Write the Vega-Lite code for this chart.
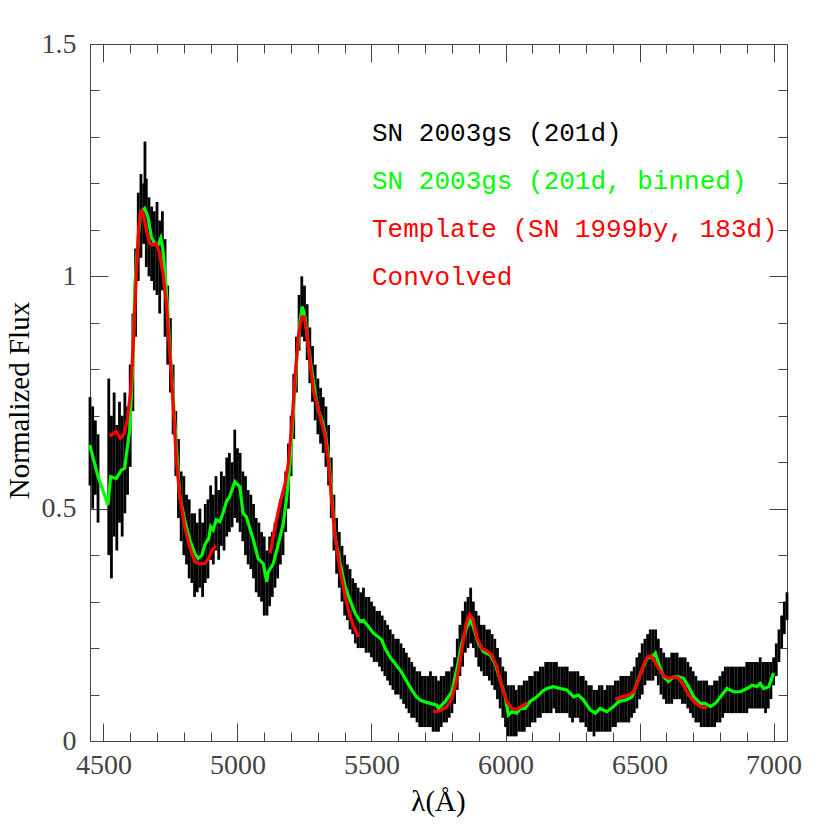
{
"$schema": "https://vega.github.io/schema/vega-lite/v6.json",
"width": 697, "height": 697,
"autosize": "none",
"padding": {"left": 90, "top": 44, "right": 43, "bottom": 89},
"background": "white",
"config": {"view": {"stroke": null}},
"datasets": {
"black": [
{"w":4450,"lo":0.55,"hi":0.74},{"w":4460,"lo":0.50,"hi":0.72},{"w":4470,"lo":0.53,"hi":0.69},{"w":4480,"lo":0.47,"hi":0.66},
{"w":4520,"lo":0.40,"hi":0.78},{"w":4530,"lo":0.35,"hi":0.70},{"w":4540,"lo":0.44,"hi":0.75},{"w":4550,"lo":0.41,"hi":0.68},{"w":4560,"lo":0.47,"hi":0.73},{"w":4570,"lo":0.44,"hi":0.70},{"w":4580,"lo":0.49,"hi":0.75},{"w":4590,"lo":0.53,"hi":0.72},
{"w":4600,"lo":0.59,"hi":0.81},{"w":4610,"lo":0.71,"hi":0.92},{"w":4620,"lo":0.87,"hi":1.06},{"w":4630,"lo":0.99,"hi":1.18},{"w":4640,"lo":1.04,"hi":1.22},{"w":4650,"lo":1.07,"hi":1.20},{"w":4655,"lo":1.10,"hi":1.29},{"w":4660,"lo":1.02,"hi":1.21},{"w":4670,"lo":1.00,"hi":1.17},{"w":4680,"lo":0.99,"hi":1.15},{"w":4690,"lo":0.97,"hi":1.14},
{"w":4700,"lo":0.96,"hi":1.16},{"w":4710,"lo":0.92,"hi":1.12},{"w":4720,"lo":0.97,"hi":1.14},{"w":4730,"lo":0.87,"hi":1.08},{"w":4740,"lo":0.81,"hi":0.98},{"w":4750,"lo":0.75,"hi":0.91},{"w":4760,"lo":0.66,"hi":0.81},{"w":4770,"lo":0.57,"hi":0.71},{"w":4780,"lo":0.48,"hi":0.65},{"w":4790,"lo":0.43,"hi":0.58},
{"w":4800,"lo":0.40,"hi":0.57},{"w":4810,"lo":0.38,"hi":0.53},{"w":4820,"lo":0.35,"hi":0.52},{"w":4830,"lo":0.34,"hi":0.49},{"w":4840,"lo":0.31,"hi":0.49},{"w":4850,"lo":0.32,"hi":0.47},{"w":4860,"lo":0.33,"hi":0.50},{"w":4870,"lo":0.31,"hi":0.47},{"w":4880,"lo":0.34,"hi":0.51},{"w":4890,"lo":0.35,"hi":0.52},
{"w":4900,"lo":0.39,"hi":0.55},{"w":4910,"lo":0.38,"hi":0.53},{"w":4920,"lo":0.41,"hi":0.57},{"w":4930,"lo":0.39,"hi":0.54},{"w":4940,"lo":0.42,"hi":0.58},{"w":4950,"lo":0.41,"hi":0.57},{"w":4960,"lo":0.44,"hi":0.61},{"w":4970,"lo":0.45,"hi":0.62},{"w":4980,"lo":0.46,"hi":0.60},{"w":4990,"lo":0.48,"hi":0.67},
{"w":5000,"lo":0.47,"hi":0.63},{"w":5010,"lo":0.45,"hi":0.62},{"w":5020,"lo":0.43,"hi":0.58},{"w":5030,"lo":0.40,"hi":0.57},{"w":5040,"lo":0.38,"hi":0.54},{"w":5050,"lo":0.37,"hi":0.53},{"w":5060,"lo":0.35,"hi":0.51},{"w":5070,"lo":0.32,"hi":0.48},{"w":5080,"lo":0.31,"hi":0.47},{"w":5090,"lo":0.30,"hi":0.45},
{"w":5100,"lo":0.27,"hi":0.44},{"w":5110,"lo":0.27,"hi":0.41},{"w":5120,"lo":0.29,"hi":0.44},{"w":5130,"lo":0.31,"hi":0.45},{"w":5140,"lo":0.33,"hi":0.47},{"w":5150,"lo":0.35,"hi":0.49},{"w":5160,"lo":0.38,"hi":0.52},{"w":5170,"lo":0.40,"hi":0.53},{"w":5180,"lo":0.45,"hi":0.58},{"w":5190,"lo":0.50,"hi":0.64},
{"w":5200,"lo":0.57,"hi":0.70},{"w":5210,"lo":0.65,"hi":0.79},{"w":5220,"lo":0.75,"hi":0.87},{"w":5230,"lo":0.84,"hi":0.96},{"w":5240,"lo":0.87,"hi":1.00},{"w":5250,"lo":0.86,"hi":0.98},{"w":5260,"lo":0.82,"hi":0.94},{"w":5270,"lo":0.77,"hi":0.89},{"w":5280,"lo":0.73,"hi":0.85},{"w":5290,"lo":0.69,"hi":0.81},
{"w":5300,"lo":0.66,"hi":0.78},{"w":5310,"lo":0.64,"hi":0.76},{"w":5320,"lo":0.62,"hi":0.74},{"w":5330,"lo":0.59,"hi":0.72},{"w":5340,"lo":0.55,"hi":0.68},{"w":5350,"lo":0.48,"hi":0.61},{"w":5360,"lo":0.41,"hi":0.53},{"w":5370,"lo":0.36,"hi":0.48},{"w":5380,"lo":0.33,"hi":0.45},{"w":5390,"lo":0.30,"hi":0.42},
{"w":5400,"lo":0.27,"hi":0.40},{"w":5410,"lo":0.26,"hi":0.38},{"w":5420,"lo":0.24,"hi":0.37},{"w":5430,"lo":0.23,"hi":0.35},{"w":5440,"lo":0.21,"hi":0.34},{"w":5450,"lo":0.20,"hi":0.33},{"w":5460,"lo":0.20,"hi":0.32},{"w":5470,"lo":0.20,"hi":0.33},{"w":5480,"lo":0.19,"hi":0.31},{"w":5490,"lo":0.19,"hi":0.31},
{"w":5500,"lo":0.18,"hi":0.30},{"w":5510,"lo":0.17,"hi":0.29},{"w":5520,"lo":0.17,"hi":0.28},{"w":5530,"lo":0.16,"hi":0.28},{"w":5540,"lo":0.15,"hi":0.27},{"w":5550,"lo":0.14,"hi":0.26},{"w":5560,"lo":0.13,"hi":0.25},{"w":5570,"lo":0.12,"hi":0.24},{"w":5580,"lo":0.11,"hi":0.23},{"w":5590,"lo":0.10,"hi":0.22},
{"w":5600,"lo":0.10,"hi":0.22},{"w":5610,"lo":0.09,"hi":0.21},{"w":5620,"lo":0.08,"hi":0.20},{"w":5630,"lo":0.07,"hi":0.19},{"w":5640,"lo":0.06,"hi":0.18},{"w":5650,"lo":0.05,"hi":0.17},{"w":5660,"lo":0.05,"hi":0.16},{"w":5670,"lo":0.04,"hi":0.15},{"w":5680,"lo":0.03,"hi":0.15},{"w":5690,"lo":0.03,"hi":0.14},
{"w":5700,"lo":0.03,"hi":0.14},{"w":5710,"lo":0.03,"hi":0.14},{"w":5720,"lo":0.03,"hi":0.15},{"w":5730,"lo":0.02,"hi":0.14},{"w":5740,"lo":0.02,"hi":0.14},{"w":5750,"lo":0.02,"hi":0.13},{"w":5760,"lo":0.03,"hi":0.14},{"w":5770,"lo":0.04,"hi":0.14},{"w":5780,"lo":0.04,"hi":0.15},{"w":5790,"lo":0.05,"hi":0.15},
{"w":5800,"lo":0.06,"hi":0.16},{"w":5810,"lo":0.08,"hi":0.18},{"w":5820,"lo":0.11,"hi":0.22},{"w":5830,"lo":0.14,"hi":0.25},{"w":5840,"lo":0.16,"hi":0.28},{"w":5850,"lo":0.19,"hi":0.30},{"w":5860,"lo":0.20,"hi":0.31},{"w":5870,"lo":0.21,"hi":0.33},{"w":5880,"lo":0.20,"hi":0.30},{"w":5890,"lo":0.18,"hi":0.28},
{"w":5900,"lo":0.16,"hi":0.27},{"w":5910,"lo":0.15,"hi":0.25},{"w":5920,"lo":0.14,"hi":0.25},{"w":5930,"lo":0.14,"hi":0.24},{"w":5940,"lo":0.13,"hi":0.24},{"w":5950,"lo":0.12,"hi":0.23},{"w":5960,"lo":0.11,"hi":0.22},{"w":5970,"lo":0.09,"hi":0.20},{"w":5980,"lo":0.07,"hi":0.18},{"w":5990,"lo":0.05,"hi":0.16},
{"w":6000,"lo":0.03,"hi":0.15},{"w":6010,"lo":0.01,"hi":0.12},{"w":6020,"lo":0.01,"hi":0.12},{"w":6030,"lo":0.01,"hi":0.12},{"w":6040,"lo":0.01,"hi":0.11},{"w":6050,"lo":0.02,"hi":0.12},{"w":6060,"lo":0.02,"hi":0.12},{"w":6070,"lo":0.02,"hi":0.13},{"w":6080,"lo":0.03,"hi":0.13},{"w":6090,"lo":0.03,"hi":0.14},
{"w":6100,"lo":0.04,"hi":0.14},{"w":6110,"lo":0.04,"hi":0.15},{"w":6120,"lo":0.05,"hi":0.15},{"w":6130,"lo":0.05,"hi":0.16},{"w":6140,"lo":0.06,"hi":0.16},{"w":6150,"lo":0.06,"hi":0.17},{"w":6160,"lo":0.06,"hi":0.17},{"w":6170,"lo":0.06,"hi":0.17},{"w":6180,"lo":0.07,"hi":0.17},{"w":6190,"lo":0.06,"hi":0.17},
{"w":6200,"lo":0.06,"hi":0.16},{"w":6210,"lo":0.06,"hi":0.16},{"w":6220,"lo":0.06,"hi":0.16},{"w":6230,"lo":0.06,"hi":0.16},{"w":6240,"lo":0.05,"hi":0.15},{"w":6250,"lo":0.04,"hi":0.15},{"w":6260,"lo":0.05,"hi":0.15},{"w":6270,"lo":0.05,"hi":0.15},{"w":6280,"lo":0.04,"hi":0.14},{"w":6290,"lo":0.04,"hi":0.14},
{"w":6300,"lo":0.03,"hi":0.13},{"w":6310,"lo":0.02,"hi":0.12},{"w":6320,"lo":0.02,"hi":0.12},{"w":6330,"lo":0.01,"hi":0.11},{"w":6340,"lo":0.02,"hi":0.11},{"w":6350,"lo":0.02,"hi":0.12},{"w":6360,"lo":0.02,"hi":0.12},{"w":6370,"lo":0.02,"hi":0.11},{"w":6380,"lo":0.02,"hi":0.12},{"w":6390,"lo":0.02,"hi":0.12},
{"w":6400,"lo":0.03,"hi":0.12},{"w":6410,"lo":0.03,"hi":0.13},{"w":6420,"lo":0.04,"hi":0.13},{"w":6430,"lo":0.04,"hi":0.14},{"w":6440,"lo":0.04,"hi":0.14},{"w":6450,"lo":0.04,"hi":0.14},{"w":6460,"lo":0.04,"hi":0.14},{"w":6470,"lo":0.05,"hi":0.15},{"w":6480,"lo":0.06,"hi":0.16},{"w":6490,"lo":0.07,"hi":0.18},
{"w":6500,"lo":0.09,"hi":0.19},{"w":6510,"lo":0.10,"hi":0.21},{"w":6520,"lo":0.12,"hi":0.22},{"w":6530,"lo":0.13,"hi":0.23},{"w":6540,"lo":0.13,"hi":0.24},{"w":6550,"lo":0.13,"hi":0.24},{"w":6560,"lo":0.14,"hi":0.24},{"w":6570,"lo":0.12,"hi":0.22},{"w":6580,"lo":0.10,"hi":0.20},{"w":6590,"lo":0.09,"hi":0.19},
{"w":6600,"lo":0.08,"hi":0.18},{"w":6610,"lo":0.08,"hi":0.18},{"w":6620,"lo":0.08,"hi":0.19},{"w":6630,"lo":0.09,"hi":0.19},{"w":6640,"lo":0.09,"hi":0.19},{"w":6650,"lo":0.09,"hi":0.18},{"w":6660,"lo":0.08,"hi":0.18},{"w":6670,"lo":0.08,"hi":0.18},{"w":6680,"lo":0.07,"hi":0.17},{"w":6690,"lo":0.06,"hi":0.16},
{"w":6700,"lo":0.05,"hi":0.15},{"w":6710,"lo":0.04,"hi":0.14},{"w":6720,"lo":0.04,"hi":0.13},{"w":6730,"lo":0.03,"hi":0.13},{"w":6740,"lo":0.03,"hi":0.13},{"w":6750,"lo":0.03,"hi":0.13},{"w":6760,"lo":0.03,"hi":0.12},{"w":6770,"lo":0.03,"hi":0.12},{"w":6780,"lo":0.03,"hi":0.13},{"w":6790,"lo":0.04,"hi":0.13},
{"w":6800,"lo":0.04,"hi":0.14},{"w":6810,"lo":0.05,"hi":0.15},{"w":6820,"lo":0.06,"hi":0.16},{"w":6830,"lo":0.06,"hi":0.16},{"w":6840,"lo":0.06,"hi":0.16},{"w":6850,"lo":0.06,"hi":0.16},{"w":6860,"lo":0.06,"hi":0.16},{"w":6870,"lo":0.06,"hi":0.16},{"w":6880,"lo":0.06,"hi":0.16},{"w":6890,"lo":0.06,"hi":0.16},
{"w":6900,"lo":0.06,"hi":0.17},{"w":6910,"lo":0.07,"hi":0.17},{"w":6920,"lo":0.07,"hi":0.17},{"w":6930,"lo":0.07,"hi":0.17},{"w":6940,"lo":0.07,"hi":0.17},{"w":6950,"lo":0.07,"hi":0.18},{"w":6960,"lo":0.07,"hi":0.17},{"w":6970,"lo":0.06,"hi":0.17},{"w":6980,"lo":0.07,"hi":0.17},{"w":6990,"lo":0.09,"hi":0.17},
{"w":7000,"lo":0.12,"hi":0.18},{"w":7010,"lo":0.14,"hi":0.21},{"w":7020,"lo":0.17,"hi":0.24},{"w":7030,"lo":0.20,"hi":0.27},{"w":7040,"lo":0.23,"hi":0.30},{"w":7050,"lo":0.26,"hi":0.32}
],
"green": [
{"w":4449,"f":0.637},{"w":4480,"f":0.569},{"w":4517,"f":0.508},{"w":4527,"f":0.569},{"w":4548,"f":0.565},{"w":4567,"f":0.583},{"w":4579,"f":0.587},{"w":4598,"f":0.669},{"w":4610,"f":0.813},{"w":4617,"f":0.978},{"w":4629,"f":1.078},{"w":4639,"f":1.139},{"w":4654,"f":1.146},{"w":4666,"f":1.128},{"w":4679,"f":1.085},{"w":4691,"f":1.071},{"w":4704,"f":1.067},{"w":4714,"f":1.082},{"w":4722,"f":1.057},{"w":4735,"f":0.970},{"w":4747,"f":0.856},{"w":4760,"f":0.741},{"w":4772,"f":0.633},{"w":4785,"f":0.526},{"w":4803,"f":0.476},{"w":4822,"f":0.433},{"w":4841,"f":0.404},{"w":4853,"f":0.393},{"w":4868,"f":0.400},{"w":4878,"f":0.422},{"w":4893,"f":0.436},{"w":4900,"f":0.461},{"w":4909,"f":0.454},{"w":4921,"f":0.476},{"w":4934,"f":0.472},{"w":4946,"f":0.490},{"w":4959,"f":0.515},{"w":4971,"f":0.526},{"w":4990,"f":0.558},{"w":5009,"f":0.547},{"w":5021,"f":0.490},{"w":5033,"f":0.483},{"w":5046,"f":0.458},{"w":5058,"f":0.436},{"w":5077,"f":0.393},{"w":5096,"f":0.382},{"w":5109,"f":0.343},{"w":5115,"f":0.364},{"w":5134,"f":0.382},{"w":5153,"f":0.425},{"w":5171,"f":0.468},{"w":5184,"f":0.526},{"w":5196,"f":0.598},{"w":5209,"f":0.712},{"w":5221,"f":0.820},{"w":5234,"f":0.906},{"w":5242,"f":0.935},{"w":5252,"f":0.913},{"w":5265,"f":0.848},{"w":5277,"f":0.798},{"w":5290,"f":0.748},{"w":5302,"f":0.712},{"w":5315,"f":0.691},{"w":5327,"f":0.662},{"w":5340,"f":0.612},{"w":5352,"f":0.526},{"w":5364,"f":0.440},{"w":5383,"f":0.382},{"w":5402,"f":0.332},{"w":5420,"f":0.303},{"w":5439,"f":0.275},{"w":5458,"f":0.257},{"w":5470,"f":0.260},{"w":5489,"f":0.246},{"w":5507,"f":0.232},{"w":5526,"f":0.224},{"w":5539,"f":0.217},{"w":5551,"f":0.199},{"w":5570,"f":0.18},{"w":5590,"f":0.165},{"w":5610,"f":0.15},{"w":5630,"f":0.13},{"w":5650,"f":0.11},{"w":5668,"f":0.095},{"w":5682,"f":0.088},{"w":5700,"f":0.084},{"w":5719,"f":0.081},{"w":5744,"f":0.077},{"w":5750,"f":0.070},{"w":5775,"f":0.085},{"w":5800,"f":0.106},{"w":5818,"f":0.153},{"w":5837,"f":0.210},{"w":5856,"f":0.246},{"w":5868,"f":0.260},{"w":5880,"f":0.246},{"w":5899,"f":0.210},{"w":5918,"f":0.192},{"w":5943,"f":0.185},{"w":5961,"f":0.167},{"w":5980,"f":0.131},{"w":5999,"f":0.095},{"w":6011,"f":0.056},{"w":6024,"f":0.063},{"w":6042,"f":0.060},{"w":6055,"f":0.070},{"w":6073,"f":0.070},{"w":6092,"f":0.085},{"w":6117,"f":0.095},{"w":6136,"f":0.106},{"w":6154,"f":0.113},{"w":6179,"f":0.117},{"w":6204,"f":0.113},{"w":6229,"f":0.110},{"w":6254,"f":0.095},{"w":6272,"f":0.099},{"w":6291,"f":0.088},{"w":6316,"f":0.067},{"w":6335,"f":0.060},{"w":6353,"f":0.070},{"w":6378,"f":0.063},{"w":6403,"f":0.074},{"w":6422,"f":0.085},{"w":6447,"f":0.088},{"w":6472,"f":0.095},{"w":6490,"f":0.124},{"w":6509,"f":0.153},{"w":6528,"f":0.178},{"w":6546,"f":0.181},{"w":6559,"f":0.189},{"w":6571,"f":0.167},{"w":6590,"f":0.138},{"w":6608,"f":0.128},{"w":6627,"f":0.138},{"w":6646,"f":0.138},{"w":6664,"f":0.135},{"w":6683,"f":0.117},{"w":6702,"f":0.095},{"w":6727,"f":0.081},{"w":6745,"f":0.081},{"w":6764,"f":0.074},{"w":6783,"f":0.081},{"w":6802,"f":0.095},{"w":6826,"f":0.113},{"w":6851,"f":0.106},{"w":6876,"f":0.106},{"w":6901,"f":0.113},{"w":6920,"f":0.120},{"w":6938,"f":0.117},{"w":6950,"f":0.124},{"w":6963,"f":0.113},{"w":6982,"f":0.117},{"w":7000,"f":0.146}
],
"red": [
{"seg":1,"w":4523,"f":0.656},{"seg":1,"w":4536,"f":0.661},{"seg":1,"w":4548,"f":0.666},{"seg":1,"w":4563,"f":0.651},{"seg":1,"w":4577,"f":0.661},{"seg":1,"w":4589,"f":0.691},{"seg":1,"w":4602,"f":0.755},{"seg":1,"w":4614,"f":0.884},{"seg":1,"w":4623,"f":1.006},{"seg":1,"w":4632,"f":1.107},{"seg":1,"w":4641,"f":1.144},{"seg":1,"w":4651,"f":1.128},{"seg":1,"w":4660,"f":1.100},{"seg":1,"w":4673,"f":1.071},{"seg":1,"w":4685,"f":1.067},{"seg":1,"w":4697,"f":1.071},{"seg":1,"w":4710,"f":1.049},{"seg":1,"w":4722,"f":1.006},{"seg":1,"w":4735,"f":0.942},{"seg":1,"w":4747,"f":0.841},{"seg":1,"w":4760,"f":0.727},{"seg":1,"w":4772,"f":0.605},{"seg":1,"w":4785,"f":0.526},{"seg":1,"w":4803,"f":0.461},{"seg":1,"w":4822,"f":0.418},{"seg":1,"w":4841,"f":0.386},{"seg":1,"w":4859,"f":0.381},{"seg":1,"w":4878,"f":0.382},{"seg":1,"w":4893,"f":0.393},{"seg":1,"w":4905,"f":0.411},{"seg":1,"w":4919,"f":0.420},
{"seg":2,"w":5122,"f":0.404},{"seg":2,"w":5140,"f":0.461},{"seg":2,"w":5159,"f":0.512},{"seg":2,"w":5178,"f":0.555},{"seg":2,"w":5190,"f":0.598},{"seg":2,"w":5203,"f":0.684},{"seg":2,"w":5215,"f":0.784},{"seg":2,"w":5227,"f":0.870},{"seg":2,"w":5240,"f":0.913},{"seg":2,"w":5249,"f":0.913},{"seg":2,"w":5259,"f":0.877},{"seg":2,"w":5271,"f":0.813},{"seg":2,"w":5283,"f":0.755},{"seg":2,"w":5296,"f":0.727},{"seg":2,"w":5308,"f":0.698},{"seg":2,"w":5327,"f":0.655},{"seg":2,"w":5340,"f":0.598},{"seg":2,"w":5352,"f":0.512},{"seg":2,"w":5364,"f":0.440},{"seg":2,"w":5383,"f":0.368},{"seg":2,"w":5402,"f":0.311},{"seg":2,"w":5420,"f":0.268},{"seg":2,"w":5439,"f":0.239},{"seg":2,"w":5451,"f":0.224},
{"seg":3,"w":5729,"f":0.063},{"seg":3,"w":5756,"f":0.065},{"seg":3,"w":5781,"f":0.074},{"seg":3,"w":5800,"f":0.092},{"seg":3,"w":5818,"f":0.131},{"seg":3,"w":5837,"f":0.196},{"seg":3,"w":5853,"f":0.253},{"seg":3,"w":5866,"f":0.273},{"seg":3,"w":5878,"f":0.264},{"seg":3,"w":5893,"f":0.224},{"seg":3,"w":5912,"f":0.199},{"seg":3,"w":5931,"f":0.194},{"seg":3,"w":5949,"f":0.185},{"seg":3,"w":5968,"f":0.160},{"seg":3,"w":5986,"f":0.117},{"seg":3,"w":6005,"f":0.085},{"seg":3,"w":6024,"f":0.070},{"seg":3,"w":6042,"f":0.068},{"seg":3,"w":6061,"f":0.075},{"seg":3,"w":6080,"f":0.082},
{"seg":4,"w":6409,"f":0.090},{"seg":4,"w":6434,"f":0.095},{"seg":4,"w":6459,"f":0.099},{"seg":4,"w":6478,"f":0.106},{"seg":4,"w":6496,"f":0.131},{"seg":4,"w":6515,"f":0.164},{"seg":4,"w":6530,"f":0.181},{"seg":4,"w":6543,"f":0.183},{"seg":4,"w":6553,"f":0.174},{"seg":4,"w":6571,"f":0.156},{"seg":4,"w":6590,"f":0.140},{"seg":4,"w":6608,"f":0.135},{"seg":4,"w":6627,"f":0.138},{"seg":4,"w":6646,"f":0.135},{"seg":4,"w":6664,"f":0.120},{"seg":4,"w":6683,"f":0.099},{"seg":4,"w":6702,"f":0.085},{"seg":4,"w":6727,"f":0.074},{"seg":4,"w":6751,"f":0.072}
],
"labels": [
{"t":"SN 2003gs (201d)","s":"obs","w":5502,"f":1.308},
{"t":"SN 2003gs (201d, binned)","s":"binned","w":5502,"f":1.205},
{"t":"Template (SN 1999by, 183d)","s":"template","w":5502,"f":1.102},
{"t":"Convolved","s":"convolved","w":5502,"f":0.998}
]
},
"resolve": {"axis": {"x": "independent", "y": "independent"}},
"layer": [
{
"data": {"name": "black"},
"mark": {"type": "rule", "color": "black", "strokeWidth": 2.8},
"encoding": {
"x": {"field": "w", "type": "quantitative", "scale": {"domain": [4450, 7050], "nice": false, "zero": false},
"axis": {"orient": "bottom", "values": [4500,4600,4700,4800,4900,5000,5100,5200,5300,5400,5500,5600,5700,5800,5900,6000,6100,6200,6300,6400,6500,6600,6700,6800,6900,7000],
"labelExpr": "datum.value % 500 === 0 ? format(datum.value, 'd') : ''",
"tickSize": {"condition": {"test": "datum.value % 500 === 0", "value": -18}, "value": -9},
"tickColor": "#444", "tickWidth": 1, "domainColor": "#444", "domainWidth": 1, "grid": false,
"labelFont": "Liberation Serif", "labelFontSize": 28, "labelColor": "#444", "labelPadding": 28, "labelFlush": false, "labelOverlap": false,
"title": "λ(Å)", "titleFont": "Liberation Serif", "titleFontSize": 29, "titleFontWeight": "normal", "titleColor": "black",
"titleX": 348, "titleY": 60, "titleBaseline": "middle", "titleAlign": "center"}},
"y": {"field": "lo", "type": "quantitative", "scale": {"domain": [0, 1.5], "nice": false, "zero": false},
"axis": {"orient": "left", "values": [0,0.1,0.2,0.3,0.4,0.5,0.6,0.7,0.8,0.9,1,1.1,1.2,1.3,1.4,1.5],
"labelExpr": "datum.value % 0.5 === 0 ? format(datum.value, '~g') : ''",
"tickSize": {"condition": {"test": "datum.value % 0.5 === 0", "value": -18}, "value": -9},
"tickColor": "#444", "tickWidth": 1, "domainColor": "#444", "domainWidth": 1, "grid": false,
"labelFont": "Liberation Serif", "labelFontSize": 28, "labelColor": "#444", "labelPadding": 32, "labelFlush": false, "labelOverlap": false, "labelBaseline": "middle",
"title": "Normalized Flux", "titleFont": "Liberation Serif", "titleFontSize": 29, "titleFontWeight": "normal", "titleColor": "black",
"titleX": -71, "titleY": 356, "titleAngle": -90, "titleBaseline": "middle", "titleAlign": "center"}},
"y2": {"field": "hi"}
}
},
{
"data": {"name": "green"},
"mark": {"type": "line", "color": "#00ff00", "strokeWidth": 3.2},
"encoding": {
"x": {"field": "w", "type": "quantitative", "scale": {"domain": [4450, 7050], "nice": false, "zero": false},
"axis": {"orient": "top", "values": [4500,4600,4700,4800,4900,5000,5100,5200,5300,5400,5500,5600,5700,5800,5900,6000,6100,6200,6300,6400,6500,6600,6700,6800,6900,7000],
"labels": false, "title": null,
"tickSize": {"condition": {"test": "datum.value % 500 === 0", "value": -18}, "value": -9},
"tickColor": "#444", "tickWidth": 1, "domainColor": "#444", "domainWidth": 1, "grid": false}},
"y": {"field": "f", "type": "quantitative", "scale": {"domain": [0, 1.5], "nice": false, "zero": false},
"axis": {"orient": "right", "values": [0,0.1,0.2,0.3,0.4,0.5,0.6,0.7,0.8,0.9,1,1.1,1.2,1.3,1.4,1.5],
"labels": false, "title": null,
"tickSize": {"condition": {"test": "datum.value % 0.5 === 0", "value": -18}, "value": -9},
"tickColor": "#444", "tickWidth": 1, "domainColor": "#444", "domainWidth": 1, "grid": false}}
}
},
{
"data": {"name": "red"},
"mark": {"type": "line", "color": "#ff0000", "strokeWidth": 3.2},
"encoding": {
"x": {"field": "w", "type": "quantitative", "axis": null},
"y": {"field": "f", "type": "quantitative", "axis": null},
"detail": {"field": "seg", "type": "nominal"}
}
},
{
"data": {"name": "labels"},
"mark": {"type": "text", "align": "left", "baseline": "middle", "font": "Liberation Mono", "fontSize": 26},
"encoding": {
"x": {"field": "w", "type": "quantitative", "axis": null},
"y": {"field": "f", "type": "quantitative", "axis": null},
"text": {"field": "t"},
"color": {"field": "s", "type": "nominal", "scale": {"domain": ["obs", "binned", "template", "convolved"], "range": ["#000000", "#00ff00", "#ff0000", "#ff0000"]}, "legend": null}
}
}
]
}
